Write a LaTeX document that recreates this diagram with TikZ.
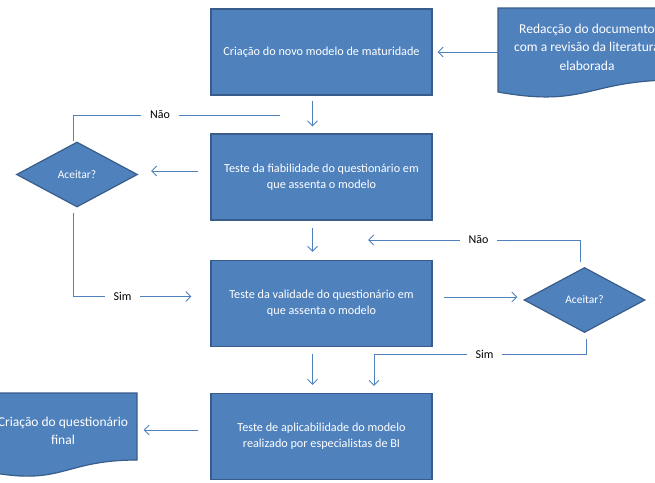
\documentclass[tikz,border=0pt]{standalone}
\usepackage{fontspec}
\setmainfont{Carlito}
\usetikzlibrary{arrows.meta,positioning,shapes.geometric}
\definecolor{boxblue}{HTML}{4F81BD}
\definecolor{boxedge}{HTML}{385D8A}

\begin{document}
\begin{tikzpicture}[x=1pt, y=-1pt,
    box/.style={draw=boxedge, line width=1.2pt, fill=boxblue, text=white, align=center, minimum width=221pt, minimum height=86pt, inner sep=0pt, font=\fontsize{12.2}{16}\selectfont},
    decide/.style={diamond, draw=boxedge, line width=1.2pt, fill=boxblue, text=white, aspect=1.85, minimum width=121pt, minimum height=65pt, inner sep=0pt, font=\fontsize{11.5}{13}\selectfont},
    docshape/.style={draw=boxedge, line width=1.2pt, fill=boxblue},
    doctext/.style={text=white, align=center, font=\fontsize{13.5}{18.5}\selectfont},
    line/.style={draw=boxblue, line width=0.9pt},
    arrow/.style={line, -{Straight Barb[length=5pt,width=10pt]}},
    lbl/.style={fill=white, inner xsep=9pt, inner ysep=2pt, font=\fontsize{12}{13}\selectfont}
  ]
    \useasboundingbox (0,0) rectangle (655,482);
    % document shapes, drawn first
    \draw[docshape] (498,8) -- (676,8) -- (676,80) .. controls (587,80) and (587,108) .. (498,92) -- cycle;
    \draw[docshape] (-11,393) -- (137,393) -- (137,460) .. controls (63,460) and (63,486) .. (-11,472) -- cycle;

    \node[doctext] (redac) at (587,47) {Redacção do documento\\com a revisão da literatura\\elaborada};
    \node[doctext] (final) at (63,431) {Criação do questionário\\final};

    \node[box] (novo) at (321.5,52) {Criação do novo modelo de maturidade};
    \node[box] (fiab) at (321.5,177) {Teste da fiabilidade do questionário em\\que assenta o modelo};
    \node[box] (valid) at (321.5,303.5) {Teste da validade do questionário em\\que assenta o modelo};
    \node[box] (aplic) at (321.5,436.5) {Teste de aplicabilidade do modelo\\realizado por especialistas de BI};

    \node[decide] (aceitA) at (77,174.5) {Aceitar?};
    \node[decide] (aceitB) at (584.5,300) {Aceitar?};

    \coordinate (naoA) at (280,115);
    \coordinate (naoB) at (368,240);

    \draw[arrow, shorten <=11pt, shorten >=5pt] (redac.west |- novo.east) -- (novo.east);
    \draw[arrow, shorten <=5pt, shorten >=7pt] ([xshift=-9pt]novo.south) -- ([xshift=-9pt]fiab.north);
    \draw[arrow, shorten <=12pt, shorten >=13pt] ([yshift=6pt]fiab.west) -- ([yshift=6pt]fiab.west -| aceitA.east);
    \draw[line] ([xshift=-4pt]aceitA.north) |- node[lbl, pos=0.71] {Não} (naoA);
    \draw[arrow, shorten <=5pt, shorten >=19pt] ([xshift=-4pt]aceitA.south) |- node[lbl, pos=0.68] {Sim} ([yshift=7pt]valid.west);
    \draw[arrow, shorten <=7pt, shorten >=8pt] ([xshift=-9pt]fiab.south) -- ([xshift=-9pt]valid.north);
    \draw[arrow, shorten <=11pt, shorten >=6pt] ([yshift=6.5pt]valid.east) -- ([yshift=6.5pt]valid.east -| aceitB.west);
    \draw[arrow, shorten <=5pt] ([xshift=-4pt]aceitB.north) |- node[lbl, pos=0.74] {Não} (naoB);
    \draw[arrow, shorten <=6pt, shorten >=7pt] ([xshift=2pt]aceitB.south) -- ++(0,21) -| node[lbl, pos=0.24] {Sim} ([xshift=52.5pt]aplic.north);
    \draw[arrow, shorten <=7pt, shorten >=8pt] ([xshift=-9pt]valid.south) -- ([xshift=-9pt]aplic.north);
    \draw[arrow, shorten <=12pt, shorten >=12pt] ([yshift=6.5pt]aplic.west) -- ([yshift=6.5pt]aplic.west -| final.east);
  \end{tikzpicture}
\end{document}
